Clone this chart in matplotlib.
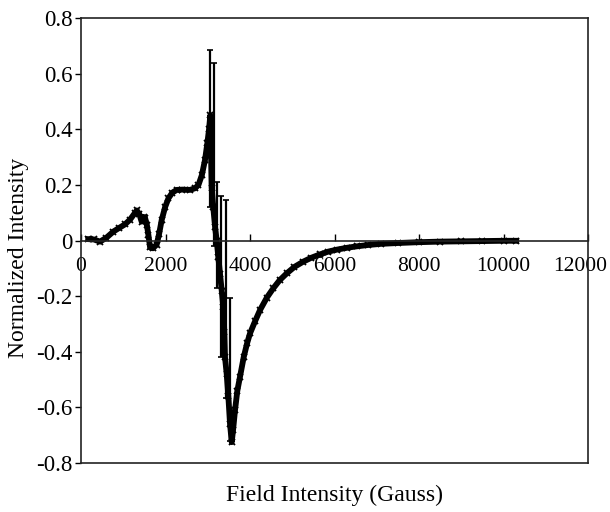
import numpy as np
from matplotlib import pyplot as plt
from matplotlib import transforms

plt.rcParams['font.family'] = ['Liberation Serif', 'DejaVu Serif']
plt.rcParams['axes.unicode_minus'] = False

# spectrum
field = [170, 300, 450, 600, 765, 900, 1040, 1160, 1280, 1320, 1380, 1435,
         1480, 1515, 1560, 1595, 1635, 1700, 1790, 1850, 1910, 1990, 2070,
         2160, 2265, 2400, 2580, 2700, 2780, 2860, 2935, 2990, 3030, 3060,
         3093, 3130, 3172, 3211, 3250, 3290, 3330, 3368, 3392, 3408, 3448,
         3487, 3527, 3567, 3600, 3645, 3700, 3763, 3850, 3930, 4000, 4120,
         4237, 4400, 4550, 4700, 4870, 5050, 5260, 5450, 5655, 5850, 6050,
         6300, 6525, 6800, 7100, 7500, 8000, 8500, 9000, 9500, 10000, 10300]
intensity = [0.005, 0.004, -0.004, 0.010, 0.032, 0.045, 0.058, 0.075, 0.100,
             0.108, 0.095, 0.068, 0.085, 0.082, 0.055, 0.020, -0.025, -0.028,
             -0.015, 0.025, 0.074, 0.120, 0.152, 0.172, 0.182, 0.183, 0.182,
             0.188, 0.200, 0.235, 0.290, 0.350, 0.400, 0.450, 0.190, 0.120,
             0.050, 0.000, -0.060, -0.120, -0.180, -0.240, -0.330, -0.420,
             -0.480, -0.560, -0.660, -0.725, -0.680, -0.610, -0.540, -0.490,
             -0.420, -0.370, -0.334, -0.290, -0.250, -0.205, -0.172, -0.143,
             -0.118, -0.095, -0.076, -0.062, -0.050, -0.040, -0.033, -0.026,
             -0.021, -0.016, -0.012, -0.009, -0.006, -0.004, -0.003, -0.002,
             -0.001, -0.001]

# points with large error bars (centre, top, bottom)
spike_x = [3053, 3136, 3230, 3325, 3432, 3527]
spike_y = [0.44, 0.11, -0.03, -0.17, -0.46, -0.66]
spike_top = [0.685, 0.640, 0.210, 0.160, 0.145, -0.205]
spike_bot = [0.120, -0.020, -0.170, -0.420, -0.565, -0.720]

fig = plt.figure(figsize=(6.1, 5.12), dpi=100)
ax = fig.add_axes([0.1328, 0.0957, 0.8312, 0.8691])

ax.plot(field, intensity, '-', color='black', lw=4.2)
ax.plot(field, intensity, 'x', color='black', ms=5, mew=1.3)

sy = np.array(spike_y)
err = [sy - np.array(spike_bot), np.array(spike_top) - sy]
ax.errorbar(spike_x, spike_y, yerr=err, fmt='none', ecolor='black',
            elinewidth=1.6, capsize=2, capthick=1.2)

ax.set_xlim(0, 12000)
ax.set_ylim(-0.8, 0.8)
ax.set_xticks(range(0, 12001, 2000))
ax.set_yticks([-0.8, -0.6, -0.4, -0.2, 0, 0.2, 0.4, 0.6, 0.8])
ax.set_yticklabels(['-0.8', '-0.6', '-0.4', '-0.2', '0', '0.2', '0.4', '0.6', '0.8'])

# x axis sits on the zero line, box closed underneath
ax.spines['bottom'].set_position(('data', 0))
ax.plot([0, 1], [0, 0], transform=ax.transAxes, color='#222222', lw=1.2, clip_on=False)
for s in ax.spines.values():
    s.set_color('#222222')
    s.set_linewidth(1.2)

ax.tick_params(axis='x', direction='in', length=5, width=1, labelsize=15.5, pad=12)
ax.tick_params(axis='y', direction='out', length=4, width=1, labelsize=16.5, pad=2)

# last label pulled left so it fits
fig.canvas.draw()
last = ax.get_xticklabels()[-1]
last.set_transform(last.get_transform() + transforms.ScaledTranslation(-8 / 100, 0, fig.dpi_scale_trans))

ax.set_ylabel('Normalized Intensity', fontsize=17)
ax.yaxis.set_label_coords(-0.102, 0.461)
fig.text(0.549, 0.033, 'Field Intensity (Gauss)', fontsize=17, ha='center', va='center')

plt.savefig('out.png', dpi=100)
